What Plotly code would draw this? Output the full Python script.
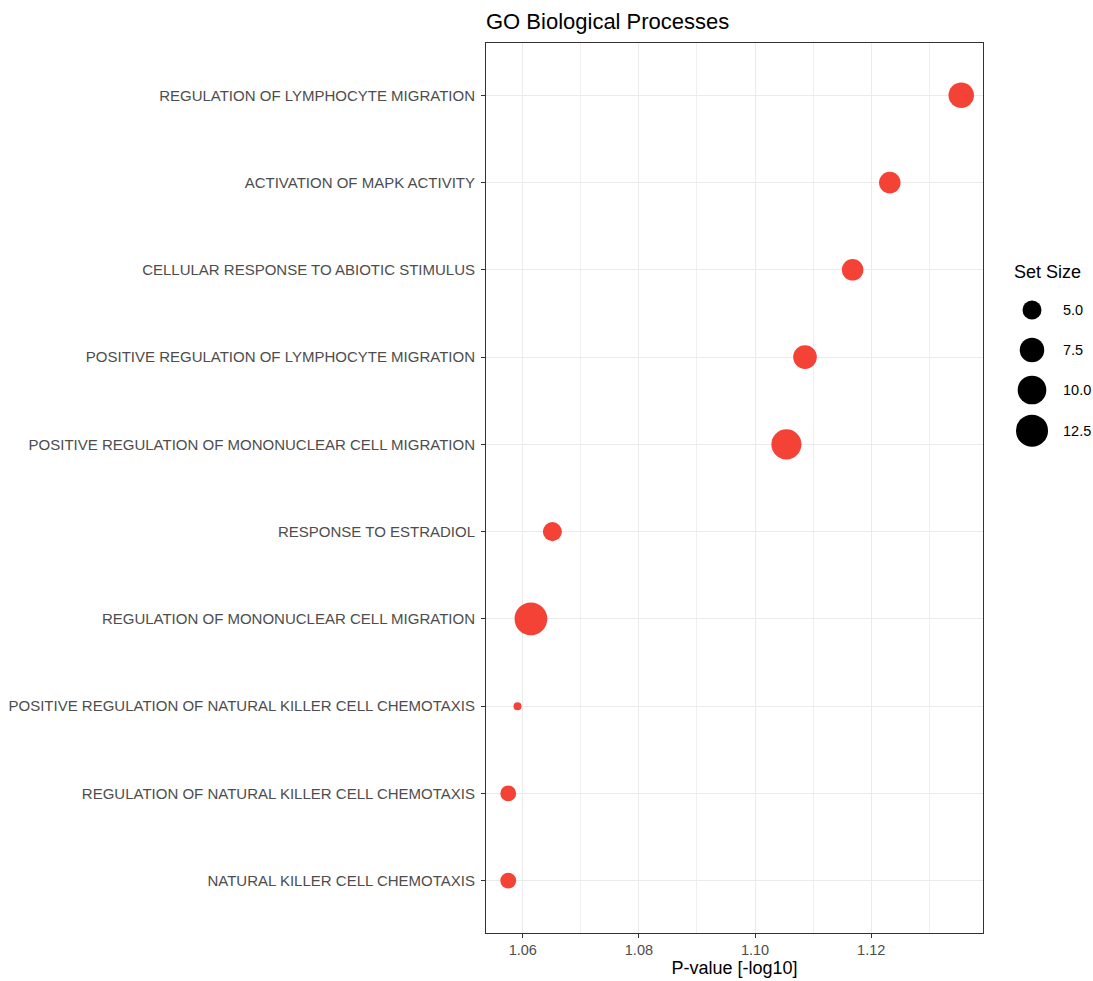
import plotly.graph_objects as go
import numpy as np

terms = [
    "REGULATION OF LYMPHOCYTE MIGRATION",
    "ACTIVATION OF MAPK ACTIVITY",
    "CELLULAR RESPONSE TO ABIOTIC STIMULUS",
    "POSITIVE REGULATION OF LYMPHOCYTE MIGRATION",
    "POSITIVE REGULATION OF MONONUCLEAR CELL MIGRATION",
    "RESPONSE TO ESTRADIOL",
    "REGULATION OF MONONUCLEAR CELL MIGRATION",
    "POSITIVE REGULATION OF NATURAL KILLER CELL CHEMOTAXIS",
    "REGULATION OF NATURAL KILLER CELL CHEMOTAXIS",
    "NATURAL KILLER CELL CHEMOTAXIS",
]
pvals = [1.1355, 1.1232, 1.1168, 1.1086, 1.1054, 1.0651, 1.0614, 1.0591, 1.0575, 1.0575]
set_sizes = [8, 6, 6, 7, 11, 5, 13, 3, 4, 4]
legend_sizes = [5.0, 7.5, 10.0, 12.5]
legend_labels = ["5.0", "7.5", "10.0", "12.5"]

S_MIN, S_MAX = 3, 13
def diam(v):
    v = np.asarray(v, dtype=float)
    return 8 + 24.7 * np.sqrt(np.clip((v - S_MIN) / (S_MAX - S_MIN), 0, None))

W, H = 1093, 981
PL, PR, PT, PB = 486, 983, 43, 933  # panel edges in page px
ML, MT, MR, MB = PL, PT, 0, H - PB
PW = W - ML - MR
xdom_main = [0, (PR - PL) / PW]
LEG_X0 = 993
xdom_leg = [(LEG_X0 - PL) / PW, 1.0]
FONT = "Liberation Sans, Arial, Helvetica"

fig = go.Figure()
fig.add_trace(go.Scatter(
    x=pvals, y=terms, mode="markers",
    marker=dict(size=diam(set_sizes), color="#F44336", opacity=1, line=dict(width=0)),
    showlegend=False, hoverinfo="x+y",
))

# size legend (helper axes, 1 unit = 1 page px)
leg_y = [310, 350, 390, 430.7]
fig.add_trace(go.Scatter(
    x=[1032 - LEG_X0] * len(legend_sizes), y=leg_y, mode="markers",
    marker=dict(size=diam(legend_sizes), color="black", opacity=1, line=dict(width=0)),
    xaxis="x2", yaxis="y2", showlegend=False, hoverinfo="skip", cliponaxis=False,
))

annotations = [dict(text="Set Size", xref="x2", yref="y2", x=1012 - LEG_X0, y=272,
                    xanchor="left", yanchor="middle", showarrow=False,
                    font=dict(size=18, color="black", family=FONT))]
for yy, lab in zip(leg_y, legend_labels):
    annotations.append(dict(text=lab, xref="x2", yref="y2", x=1061 - LEG_X0, y=yy,
                            xanchor="left", yanchor="middle", showarrow=False,
                            font=dict(size=14.5, color="black", family=FONT)))

cat_axis = list(reversed(terms))

fig.update_layout(
    width=W, height=H,
    margin=dict(l=ML, r=MR, t=MT, b=MB, pad=0),
    plot_bgcolor="white", paper_bgcolor="white",
    font=dict(family=FONT, color="#4D4D4D"),
    title=dict(text="GO Biological Processes", x=PL / W, xanchor="left",
               y=1 - 21 / H, yanchor="middle",
               font=dict(size=22, color="black", family=FONT)),
    xaxis=dict(
        domain=xdom_main, range=[1.05367, 1.13925],
        tickvals=[1.06, 1.08, 1.10, 1.12], ticktext=["1.06", "1.08", "1.10", "1.12"],
        showgrid=True, gridcolor="#EBEBEB", gridwidth=1.4,
        minor=dict(tickvals=[1.07, 1.09, 1.11, 1.13], showgrid=True, gridcolor="#EFEFEF", gridwidth=1),
        ticks="outside", ticklen=4, tickcolor="#333333", tickwidth=1,
        tickfont=dict(size=14.5, color="#4D4D4D"),
        showline=True, linecolor="#333333", linewidth=1, mirror=True,
        zeroline=False,
        title=dict(text="P-value [-log10]", font=dict(size=18, color="black"), standoff=3),
    ),
    yaxis=dict(
        type="category", categoryorder="array", categoryarray=cat_axis,
        range=[-0.6, len(terms) - 0.4],
        showgrid=True, gridcolor="#EBEBEB", gridwidth=1.4,
        ticks="outside", ticklen=4, tickcolor="#333333", tickwidth=1,
        ticklabelstandoff=3,
        tickfont=dict(size=15, color="#4D4D4D"),
        showline=True, linecolor="#333333", linewidth=1, mirror=True,
        zeroline=False,
    ),
    xaxis2=dict(domain=xdom_leg, range=[0, 100], visible=False, fixedrange=True),
    yaxis2=dict(domain=[0, 1], range=[PB, PT], visible=False, fixedrange=True),
    annotations=annotations,
)

fig.write_html(
    "out.html",
    config={"displayModeBar": False},
    post_script="document.body.style.margin='0';document.body.style.overflow='hidden';",
)
